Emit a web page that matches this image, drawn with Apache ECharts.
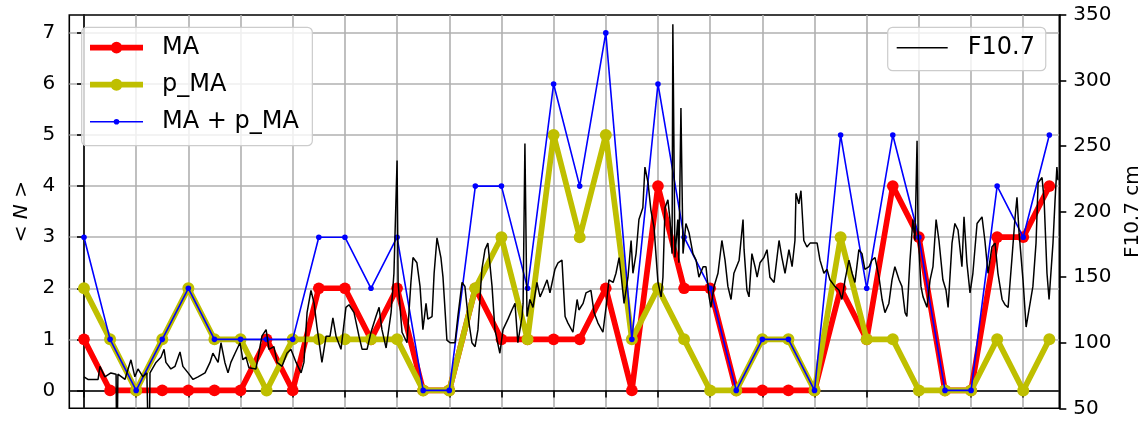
<!DOCTYPE html>
<html>
<head>
<meta charset="utf-8">
<script src="https://cdn.jsdelivr.net/npm/echarts@6/dist/echarts.min.js"></script>
<style>
  html, body { margin: 0; padding: 0; background: #ffffff; }
  #chart { width: 1138px; height: 421px; }
</style>
</head>
<body>
<div id="chart"></div>
<script>
// Sample index (one sample per rotation)
const rotationIndex = [0,1,2,3,4,5,6,7,8,9,10,11,12,13,14,15,16,17,18,19,20,21,22,23,24,25,26,27,28,29,30,31,32,33,34,35,36,37];

// Mean counts <N> per rotation
const maValues   = [1,0,0,0,0,0,0,1,0,2,2,1,2,0,0,2,1,1,1,1,2,0,4,2,2,0,0,0,0,2,1,4,3,0,0,3,3,4];
const pmaValues  = [2,1,0,1,2,1,1,0,1,1,1,1,1,0,0,2,3,1,5,3,5,1,2,1,0,0,1,1,0,3,1,1,0,0,0,1,0,1];
const sumValues  = [3,1,0,1,2,1,1,1,1,3,3,2,3,0,0,4,4,2,6,4,7,1,6,3,2,0,1,1,0,5,2,5,3,0,0,4,3,5];

// Daily F10.7 solar flux: time (in rotation units) and flux (sfu); 0 marks missing days
const fluxTime = [
  0.00,0.15,0.54,0.61,0.80,1.03,1.23,1.26,1.30,1.57,1.69,1.80,1.95,2.07,2.26,2.41,2.49,2.53,2.76,2.95,
  3.07,3.14,3.33,3.49,3.68,3.79,3.99,4.18,4.37,4.64,4.83,4.94,5.14,5.25,5.40,5.52,5.63,5.79,5.98,6.09,6.21,
  6.32,6.59,6.82,6.98,7.09,7.28,7.40,7.59,7.78,7.93,8.13,8.32,8.43,8.55,8.70,8.82,8.93,9.12,9.28,9.43,
  9.54,9.66,9.85,10.04,10.16,10.35,10.54,10.66,10.85,11.00,11.19,11.31,11.42,11.58,11.77,11.88,12.00,12.04,12.19,12.38,
  12.53,12.61,12.76,12.88,12.99,13.11,13.18,13.34,13.42,13.53,13.68,13.76,13.91,14.03,14.22,14.33,14.49,14.60,14.72,14.87,
  14.99,15.10,15.25,15.37,15.48,15.64,15.75,15.94,16.06,16.25,16.40,16.52,16.63,16.79,16.83,16.90,16.98,17.09,17.21,17.36,
  17.48,17.59,17.75,17.86,18.05,18.17,18.32,18.44,18.55,18.74,18.90,
  18.97,19.13,19.24,19.43,19.55,19.70,19.89,20.01,20.12,20.28,20.39,20.51,20.58,20.70,20.85,20.97,21.04,21.16,21.27,21.42,
  21.50,21.62,21.73,21.85,21.92,22.00,22.12,22.19,22.27,22.38,22.46,22.54,22.57,22.65,22.76,22.80,22.88,22.96,23.07,23.19,
  23.34,23.46,23.57,23.73,23.84,23.96,24.03,24.15,24.30,24.45,24.57,24.68,24.80,24.91,25.11,25.26,25.30,
  25.41,25.49,25.60,25.72,25.80,25.91,26.06,26.18,26.29,26.45,26.64,26.75,26.87,27.02,27.14,27.25,27.29,27.40,27.48,27.59,
  27.71,27.83,27.98,28.10,28.21,28.36,28.48,28.59,28.78,28.94,29.05,29.17,29.32,29.44,29.55,29.70,29.82,29.93,30.09,30.20,
  30.32,30.47,30.59,30.70,30.85,30.97,31.08,31.24,31.35,31.47,31.54,
  31.66,31.77,31.85,31.93,31.97,32.08,32.16,32.31,32.43,32.54,32.66,32.77,32.92,33.04,33.12,33.27,33.38,33.50,33.65,33.73,
  33.84,33.96,34.07,34.23,34.42,34.53,34.65,34.80,34.92,35.03,35.19,35.30,35.42,35.57,35.68,35.76,35.84,35.99,36.11,36.22,
  36.37,36.49,36.57,36.72,36.80,36.91,36.99,37.14,37.22,37.29,37.33
];
const fluxValue = [
  74,72,72,82,74,77,76,0,76,72,80,87,74,80,74,77,0,77,85,89,
  95,85,80,82,93,82,77,72,74,77,85,92,85,100,85,77,85,92,100,87,89,
  81,80,105,110,95,97,85,82,92,95,85,77,85,123,140,130,112,85,105,105,
  119,105,95,127,129,123,105,95,95,108,120,127,110,96,123,153,239,146,108,100,
  146,165,161,143,110,130,118,120,153,180,165,150,102,100,100,120,146,143,120,100,
  97,110,156,171,176,143,110,92,110,118,125,130,100,120,130,252,120,133,127,146,
  135,140,148,138,156,161,163,120,115,108,133,
  125,130,138,140,123,115,108,127,148,146,153,165,153,130,150,178,153,168,194,203,
  234,222,201,188,168,146,135,150,203,209,194,168,343,165,194,161,279,168,191,184,
  168,163,150,158,158,135,127,143,153,178,163,143,133,153,163,194,171,
  140,135,168,158,150,161,165,171,150,146,178,165,153,171,158,178,214,206,216,178,
  173,176,176,176,163,153,156,148,143,140,133,148,163,153,146,171,168,156,158,163,
  165,150,133,123,130,148,158,148,143,123,120,
  163,194,178,254,184,143,135,127,148,158,194,178,148,140,127,176,191,186,158,196,
  161,138,153,191,196,178,153,173,176,153,133,129,127,165,194,211,184,148,112,125,
  143,176,222,226,209,153,133,176,209,234,224
];

// Axis tick positions
const xTickValues = [0,2,4,6,8,10,12,14,16,18,20,22,24,26,28,30,32,34,36];
const nTickValues = [0,1,2,3,4,5,6,7];

const FONT = 'DejaVu Sans';
const pair = (xs, ys) => xs.map((x, i) => [x, ys[i]]);

// Legend handles: a line with a marker in the middle
const iconMA   = 'path://M0,4.15L53,4.15L53,9.85L0,9.85Z M32.35,7A5.85,5.85,0,1,1,20.65,7A5.85,5.85,0,1,1,32.35,7Z';
const iconPMA  = 'path://M0,4.15L53,4.15L53,9.85L0,9.85Z M32.5,7A6,6,0,1,1,20.5,7A6,6,0,1,1,32.5,7Z';
const iconSum  = 'path://M0,6.25L53,6.25L53,7.75L0,7.75Z M29.3,7A2.8,2.8,0,1,1,23.7,7A2.8,2.8,0,1,1,29.3,7Z';
const iconFlux = 'path://M0,6.2L51,6.2L51,7.8L0,7.8Z';

const chart = echarts.init(document.getElementById('chart'), null, { renderer: 'canvas' });

const legendBox = {
  orient: 'vertical',
  selectedMode: false,
  itemHeight: 14,
  itemGap: 11,
  backgroundColor: 'rgba(255,255,255,0.8)',
  borderColor: '#cccccc',
  borderWidth: 1.2,
  borderRadius: 5,
  itemStyle: { borderWidth: 0 },
  textStyle: { fontFamily: FONT, fontSize: 24, color: '#000', lineHeight: 26 }
};

chart.setOption({
  animation: false,
  backgroundColor: '#ffffff',
  textStyle: { fontFamily: FONT },
  grid: {
    left: 69.3, right: 78.7, top: 15, bottom: 12.7,
    outerBoundsMode: 'none',
    containLabel: false,
    show: true, borderColor: '#000', borderWidth: 1.6, backgroundColor: 'transparent'
  },
  legend: [
    Object.assign({}, legendBox, {
      left: 81.7, top: 27.3,
      itemWidth: 53,
      padding: [7.4, 13.5, 11, 8.3],
      formatter: name => '{s|}' + name,
      textStyle: Object.assign({}, legendBox.textStyle, { rich: { s: { width: 14 } } }),
      data: [
        { name: 'MA', icon: iconMA },
        { name: 'p_MA', icon: iconPMA },
        { name: 'MA + p_MA', icon: iconSum }
      ]
    }),
    Object.assign({}, legendBox, {
      left: 887.7, top: 27.3,
      itemWidth: 51,
      padding: [7.4, 10.8, 10, 9],
      formatter: name => '{s|}' + name,
      textStyle: Object.assign({}, legendBox.textStyle, { rich: { s: { width: 15 } } }),
      data: [{ name: 'F10.7', icon: iconFlux }]
    })
  ],
  xAxis: {
    type: 'value',
    min: -0.563, max: 37.382,
    axisLine: { show: true, lineStyle: { color: '#000', width: 1.6 } },
    axisTick: { show: true, inside: false, length: 7, customValues: xTickValues,
                lineStyle: { color: '#000', width: 1.6 } },
    axisLabel: { show: false },
    splitLine: { show: true, lineStyle: { color: '#b0b0b0', width: 1.6 } }
  },
  yAxis: [
    {
      type: 'value',
      position: 'left',
      min: -0.35, max: 7.35,
      name: '< {i|N} >',
      nameLocation: 'middle',
      nameRotate: 90,
      nameGap: 37,
      nameTextStyle: { fontFamily: FONT, fontSize: 20, color: '#000',
                       rich: { i: { fontFamily: FONT, fontSize: 20, fontStyle: 'italic', color: '#000' } } },
      axisLine: { show: true, lineStyle: { color: '#000', width: 1.6 } },
      axisTick: { show: true, inside: false, length: 7, customValues: nTickValues,
                  lineStyle: { color: '#000', width: 1.6 } },
      axisLabel: { show: true, margin: 14, customValues: nTickValues,
                   fontFamily: FONT, fontSize: 20, color: '#000' },
      splitLine: { show: true, lineStyle: { color: '#b0b0b0', width: 1.6 } }
    },
    {
      type: 'value',
      position: 'right',
      min: 50, max: 350, interval: 50,
      name: 'F10.7 cm',
      nameLocation: 'middle',
      nameRotate: 90,
      nameGap: 58,
      nameTextStyle: { fontFamily: FONT, fontSize: 20, color: '#000' },
      axisLine: { show: true, lineStyle: { color: '#000', width: 1.6 } },
      axisTick: { show: true, inside: false, length: 7, lineStyle: { color: '#000', width: 1.6 } },
      axisLabel: { show: true, margin: 14, fontFamily: FONT, fontSize: 20, color: '#000' },
      splitLine: { show: false }
    }
  ],
  series: [
    {
      name: 'MA', type: 'line', yAxisIndex: 0, z: 3,
      data: pair(rotationIndex, maValues),
      symbol: 'circle', symbolSize: 11.7, showAllSymbol: true,
      lineStyle: { color: '#ff0000', width: 5.7, cap: 'round', join: 'round' },
      itemStyle: { color: '#ff0000', borderWidth: 0 },
      emphasis: { disabled: true }, silent: true
    },
    {
      name: 'p_MA', type: 'line', yAxisIndex: 0, z: 4,
      data: pair(rotationIndex, pmaValues),
      symbol: 'circle', symbolSize: 12, showAllSymbol: true,
      lineStyle: { color: '#bfbf00', width: 5.7, cap: 'round', join: 'round' },
      itemStyle: { color: '#bfbf00', borderWidth: 0 },
      emphasis: { disabled: true }, silent: true
    },
    {
      name: 'MA + p_MA', type: 'line', yAxisIndex: 0, z: 5,
      data: pair(rotationIndex, sumValues),
      symbol: 'circle', symbolSize: 5.6, showAllSymbol: true,
      lineStyle: { color: '#0000ff', width: 1.6 },
      itemStyle: { color: '#0000ff', borderWidth: 0 },
      emphasis: { disabled: true }, silent: true
    },
    {
      name: 'F10.7', type: 'line', yAxisIndex: 1, z: 6,
      data: pair(fluxTime, fluxValue),
      showSymbol: false, symbol: 'none', clip: true,
      lineStyle: { color: '#000000', width: 1.5 },
      itemStyle: { color: '#000000' },
      emphasis: { disabled: true }, silent: true
    }
  ]
});
</script>
</body>
</html>
